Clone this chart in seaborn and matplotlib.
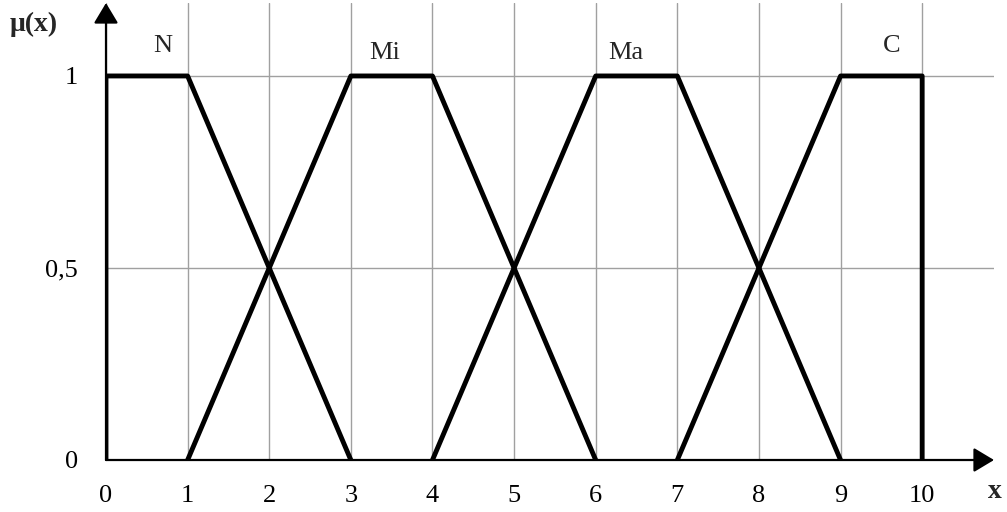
import pandas as pd
import matplotlib
matplotlib.use("Agg")
import matplotlib.pyplot as plt
import seaborn as sns

# 模糊集合的隸屬函數頂點 (梯形)
terms = ["N", "Mi", "Ma", "C"]
x_points = {
    "N": [0, 0, 1, 3],
    "Mi": [1, 3, 4, 6],
    "Ma": [4, 6, 7, 9],
    "C": [7, 9, 10, 10],
}
mu_points = {
    "N": [0, 1, 1, 0],
    "Mi": [0, 1, 1, 0],
    "Ma": [0, 1, 1, 0],
    "C": [0, 1, 1, 0],
}
term_label_x = [0.70, 3.41, 6.37, 9.63]
term_label_y = [1.078, 1.06, 1.06, 1.078]
x_ticks = list(range(0, 11))
y_ticks = [0, 0.5, 1]
y_tick_labels = ["0", "0,5", "1"]

records = []
for t in terms:
    for i, (xv, yv) in enumerate(zip(x_points[t], mu_points[t])):
        records.append({"term": t, "order": i, "x": xv, "mu": yv})
df = pd.DataFrame(records)

sns.set_style("white")
plt.rcParams["font.family"] = ["Liberation Serif", "DejaVu Serif"]

fig = plt.figure(figsize=(10.07, 5.12), dpi=100)
ax = fig.add_axes([106 / 1007, 52 / 512, 888 / 1007, 457 / 512])

sns.lineplot(
    data=df, x="x", y="mu", hue="term", units="term",
    palette=["black"] * 4, estimator=None, sort=False,
    linewidth=3.5, legend=False, ax=ax, zorder=3,
)

ax.set_xlim(0, 10.88)
ax.set_ylim(0, 1.19)
ax.set_xticks(x_ticks)
ax.set_xticklabels([str(v) for v in x_ticks])
ax.set_yticks(y_ticks)
ax.set_yticklabels(y_tick_labels)
ax.grid(True, color="#a0a0a0", linewidth=1.0, zorder=0)
ax.set_axisbelow(True)
for s in ax.spines.values():
    s.set_visible(False)
ax.tick_params(axis="both", direction="out", length=6, width=1.5, color="black",
               labelsize=19, labelcolor="black")
ax.tick_params(axis="x", pad=12)
ax.tick_params(axis="y", pad=14)
ax.set_xlabel("")
ax.set_ylabel("")

# 座標軸箭頭
arrow = dict(arrowstyle="-|>,head_length=0.5,head_width=0.3", color="black",
             lw=1.6, shrinkA=0, shrinkB=0, mutation_scale=25)
ax.annotate("", xy=(1.0, 0), xytext=(0, 0), xycoords="axes fraction",
            textcoords="axes fraction", arrowprops=arrow, zorder=5, annotation_clip=False)
ax.annotate("", xy=(0, 1.0), xytext=(0, 0), xycoords="axes fraction",
            textcoords="axes fraction", arrowprops=arrow, zorder=5, annotation_clip=False)

for t, lx, ly in zip(terms, term_label_x, term_label_y):
    ax.text(lx, ly, t, fontsize=19, ha="center", va="center")

fig.text(34 / 1007, 1 - 24 / 512, "μ(x)", fontsize=20, fontweight="bold",
         ha="center", va="center")
fig.text(995 / 1007, 1 - 492 / 512, "x", fontsize=20, fontweight="bold",
         ha="center", va="center")

fig.savefig("out.png", dpi=100)
